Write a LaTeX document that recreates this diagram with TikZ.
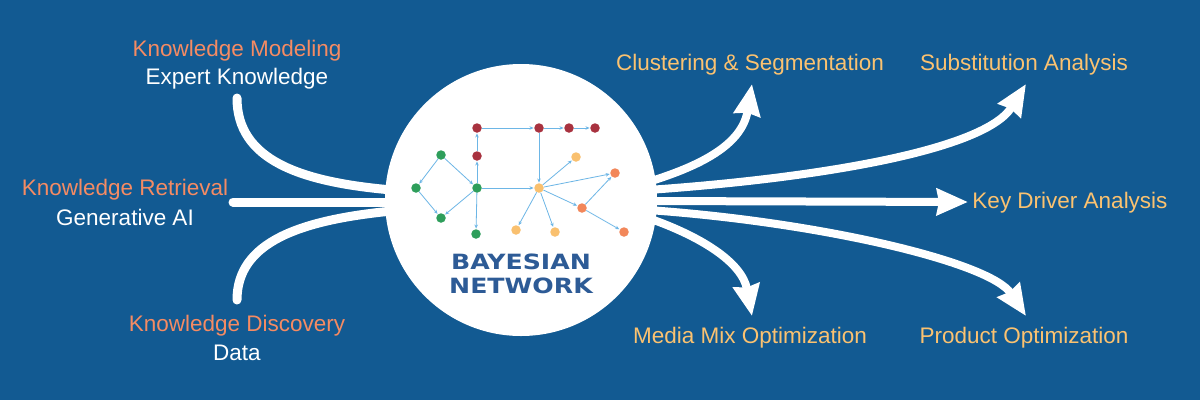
\documentclass[tikz,border=0pt]{standalone}
\usepackage{fontspec}
\setmainfont{Liberation Sans}
\newfontfamily\logofont{DejaVu Sans}
\usetikzlibrary{arrows.meta}
\definecolor{bg}{HTML}{125A92}
\definecolor{korange}{HTML}{F58B63}
\definecolor{lorange}{HTML}{FBC270}
\definecolor{edgeblue}{HTML}{6DB6E6}
\definecolor{logoblue}{HTML}{2D5B96}
\definecolor{nred}{HTML}{A8323F}
\definecolor{ngreen}{HTML}{2E9E5B}
\definecolor{nyellow}{HTML}{F9C06F}
\definecolor{norange}{HTML}{F2875A}
\tikzset{
  inarrow/.style={white, line width=9pt, line cap=round},
  outarrow/.style={white, line width=8pt, -{Stealth[length=31pt,width=26pt,inset=2pt]}},
  lbl/.style={font=\fontsize{22.5}{25}\selectfont, inner sep=0pt, anchor=center},
  bnode/.style={circle, inner sep=0pt, minimum size=9.5pt, fill=#1},
  bedge/.style={draw=edgeblue, line width=0.8pt, -{Stealth[length=4pt,width=3.5pt]}, shorten >=0.5pt}
}
\begin{document}
\begin{tikzpicture}[x=1pt,y=-1pt]
\useasboundingbox (0,0) rectangle (1200,400);
\fill[bg] (0,0) rectangle (1200,400);

% labels
\node[lbl, text=korange] (km) at (237,51) {Knowledge Modeling};
\node[lbl, text=white] (ek) at (237,79) {Expert Knowledge};
\node[lbl, text=korange] (kr) at (125,190) {Knowledge Retrieval};
\node[lbl, text=white] (gai) at (125,217) {Generative AI};
\node[lbl, text=korange] (kd) at (237,326) {Knowledge Discovery};
\node[lbl, text=white] (data) at (237,353) {Data};

\node[lbl, text=lorange] (cs) at (750,65) {Clustering \& Segmentation};
\node[lbl, text=lorange] (sa) at (1024,65) {Substitution Analysis};
\node[lbl, text=lorange] (kda) at (1070,203) {Key Driver Analysis};
\node[lbl, text=lorange] (mmo) at (750,338) {Media Mix Optimization};
\node[lbl, text=lorange] (po) at (1024,338) {Product Optimization};

% arrow end points
\coordinate (inA) at (237,98);
\coordinate (inB) at (233,202);
\coordinate (inC) at (237,300);
\coordinate (hubA) at (392,190);
\coordinate (hubB) at (392,202);
\coordinate (hubC) at (392,211);
\coordinate (oA) at (648,182);
\coordinate (oB) at (648,190);
\coordinate (oC) at (648,201);
\coordinate (oD) at (648,210);
\coordinate (oE) at (648,218);
\coordinate (tA) at (752,84);
\coordinate (tB) at (1026,84);
\coordinate (tC) at (968,202);
\coordinate (tD) at (1026,316);
\coordinate (tE) at (752,316);

% incoming arrows
\draw[inarrow] (inA) .. controls (237,160) and (300,182) .. (hubA);
\draw[inarrow] (inB) -- (hubB);
\draw[inarrow] (inC) .. controls (237,242) and (300,220) .. (hubC);

% outgoing arrows
\draw[outarrow] (oA) .. controls (700,166) and (742,145) .. (tA);
\draw[outarrow] (oB) .. controls (820,178) and (985,150) .. (tB);
\draw[outarrow] (oC) -- (tC);
\draw[outarrow] (oD) .. controls (820,222) and (990,262) .. (tD);
\draw[outarrow] (oE) .. controls (700,236) and (742,262) .. (tE);

% central circle
\node[circle, fill=white, minimum size=272pt, inner sep=0pt] (bn) at (521,200) {};

% network nodes
\node[bnode=nred] (r1) at (477,128) {};
\node[bnode=nred] (r2) at (539,128) {};
\node[bnode=nred] (r3) at (569,128) {};
\node[bnode=nred] (r4) at (595,128) {};
\node[bnode=nred] (r5) at (477,156) {};
\node[bnode=ngreen] (g1) at (441,155) {};
\node[bnode=ngreen] (g2) at (416,188) {};
\node[bnode=ngreen] (g3) at (477,188) {};
\node[bnode=ngreen] (g4) at (441,218) {};
\node[bnode=ngreen] (g5) at (476,234) {};
\node[bnode=nyellow] (y1) at (539,188) {};
\node[bnode=nyellow] (y2) at (576,157) {};
\node[bnode=nyellow] (y3) at (516,230) {};
\node[bnode=nyellow] (y4) at (555,232) {};
\node[bnode=norange] (o1) at (615,173) {};
\node[bnode=norange] (o2) at (582,208) {};
\node[bnode=norange] (o3) at (624,232) {};

\draw[bedge] (g1) -- (g2);
\draw[bedge] (g1) -- (g3);
\draw[bedge] (g2) -- (g4);
\draw[bedge] (g3) -- (g4);
\draw[bedge] (g3) -- (r5);
\draw[bedge] (r5) -- (r1);
\draw[bedge] (r1) -- (r2);
\draw[bedge] (r2) -- (r3);
\draw[bedge] (r3) -- (r4);
\draw[bedge] (r2) -- (y1);
\draw[bedge] (g3) -- (y1);
\draw[bedge] (g3) -- (g5);
\draw[bedge] (y1) -- (y2);
\draw[bedge] (y1) -- (o1);
\draw[bedge] (y1) -- (o2);
\draw[bedge] (y1) -- (y3);
\draw[bedge] (y1) -- (y4);
\draw[bedge] (o2) -- (o1);
\draw[bedge] (o2) -- (o3);

% logo text
\node[inner sep=0pt, text=logoblue, font=\logofont\bfseries\fontsize{21}{23.5}\selectfont, xscale=1.2, align=center] (logo) at (521,274) {BAYESIAN\\NETWORK};
\end{tikzpicture}
\end{document}
